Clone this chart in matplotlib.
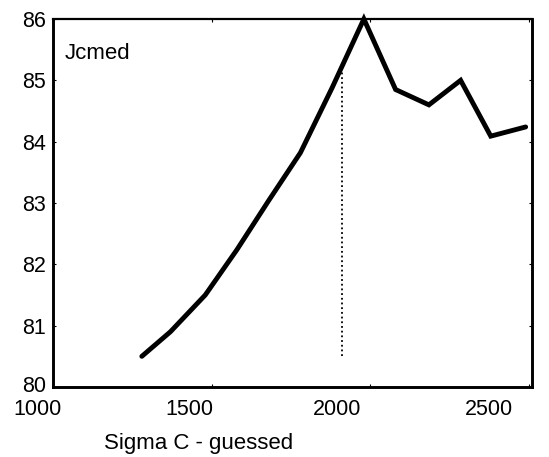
import numpy as np
import matplotlib
matplotlib.use("Agg")
import matplotlib.pyplot as plt
from matplotlib.transforms import ScaledTranslation

# Jcmed as a function of the guessed Sigma C
sigma_c = [1280, 1370, 1480, 1580, 1680, 1780, 1880, 1980, 2080, 2185, 2285, 2380, 2490]
jcmed = [80.5, 80.9, 81.5, 82.24, 83.04, 83.82, 84.88, 86.0, 84.85, 84.6, 85.0, 84.09, 84.24]

# marker for the chosen Sigma C
sigma_marker = 1912
marker_floor = 80.5

x_ticks = [1000, 1500, 2000, 2500]
y_ticks = [80, 81, 82, 83, 84, 85, 86]

plt.rcParams["font.family"] = ["Liberation Sans", "DejaVu Sans"]

fig = plt.figure(figsize=(5.49, 4.57), dpi=100)
ax = fig.add_axes([53 / 549, 1 - 387 / 457, 479 / 549, 368 / 457])

ax.plot(sigma_c, jcmed, color="black", lw=3.5, solid_capstyle="round",
        solid_joinstyle="miter", clip_on=False, zorder=3)

marker_top = np.interp(sigma_marker, sigma_c, jcmed)
ax.plot([sigma_marker, sigma_marker], [marker_floor, marker_top], color="black",
        lw=1.3, linestyle=(0, (1, 1.6)), zorder=2)

ax.set_xlim(1000, 2510)
ax.set_ylim(80, 86)
ax.set_xticks(x_ticks)
ax.set_yticks(y_ticks)
ax.set_xticklabels([str(v) for v in x_ticks])
ax.set_yticklabels([str(v) for v in y_ticks])

ax.tick_params(axis="both", direction="in", length=2.5, width=0.8, labelsize=15.5,
               top=True, right=True, color="black")
ax.tick_params(axis="x", pad=8.5)
ax.tick_params(axis="y", pad=5)

# tick labels sit slightly left of their ticks
nudges = [-15, -22, -33, -40]
for lab, dx in zip(ax.get_xticklabels(), nudges):
    lab.set_transform(lab.get_transform() + ScaledTranslation(dx / 100, 0, fig.dpi_scale_trans))

# keep the lowest y label clear of the first x label
ylabs = ax.get_yticklabels()
ylabs[0].set_transform(ylabs[0].get_transform() + ScaledTranslation(0, 3 / 100, fig.dpi_scale_trans))

for side in ("left", "bottom", "right"):
    ax.spines[side].set_linewidth(2.1)
ax.spines["top"].set_linewidth(1.6)

ax.text(0.025, 0.935, "Jcmed", transform=ax.transAxes, fontsize=16,
        ha="left", va="top")
fig.text(199 / 549, 1 - 443 / 457, "Sigma C - guessed", fontsize=16,
         ha="center", va="center")

fig.savefig("out.png", dpi=100, facecolor="white")
